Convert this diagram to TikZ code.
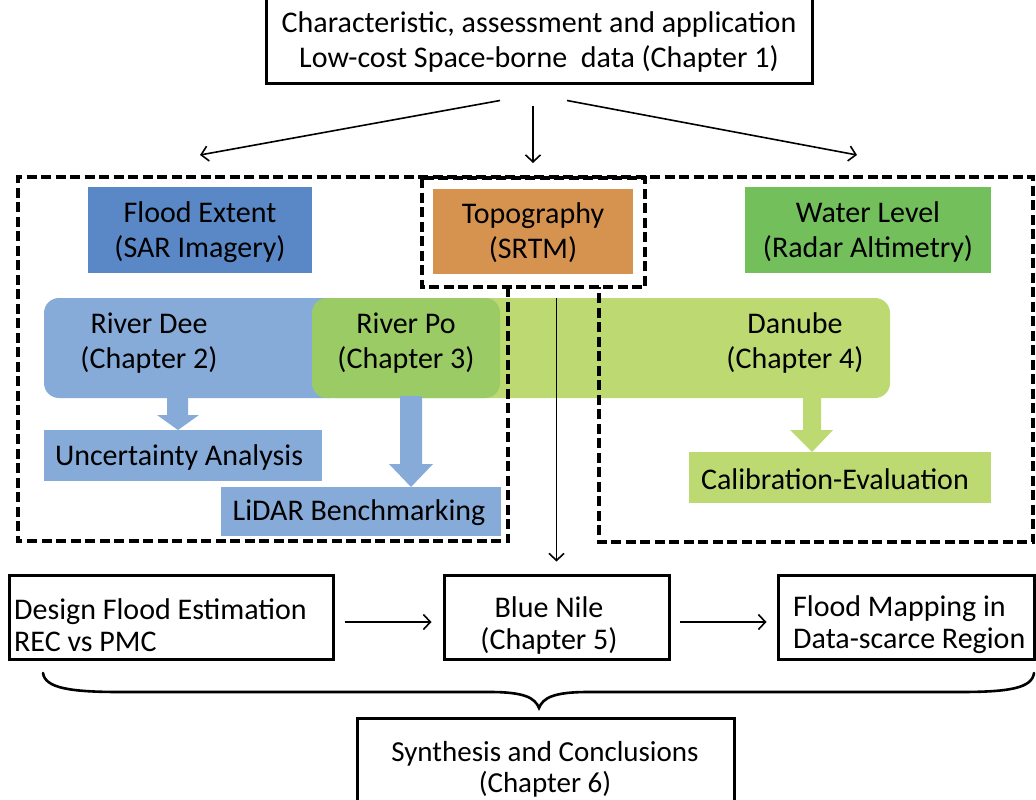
\documentclass[tikz,border=0pt]{standalone}
\usepackage{fontspec}
\setmainfont{Carlito}
\usetikzlibrary{arrows.meta}
\definecolor{fextent}{HTML}{5A87C5}
\definecolor{deeblue}{HTML}{86ABD9}
\definecolor{pogreen}{HTML}{9BCB65}
\definecolor{dangreen}{HTML}{BDD971}
\definecolor{wlgreen}{HTML}{72BF5C}
\definecolor{topoorange}{HTML}{D69350}
\begin{document}
\begin{tikzpicture}[x=1pt,y=-1pt,
  every node/.style={font=\fontsize{30}{35}\selectfont, inner sep=0pt, align=center},
  tight/.style={font=\fontsize{30}{32}\selectfont},
  plainbox/.style={draw=black, line width=3pt},
  dashbox/.style={draw=black, line width=3.5pt, dash pattern=on 10pt off 4.5pt},
  arr/.style={draw=black, line width=1.6pt, -{Straight Barb[length=7pt,width=15pt]}},
]
\useasboundingbox (0,0) rectangle (1036,800);

% top box
\node[plainbox, minimum width=546pt, minimum height=87pt] (top) at (539,39.5) {};
\node (toptxt) at (539,42) {Characteristic, assessment and application\\Low-cost Space-borne\ \ data (Chapter 1)};

% data boxes
\node[fill=fextent, minimum width=224pt, minimum height=86pt] (fe) at (200,230) {};
\node (fetxt) at (200,232) {Flood Extent\\(SAR Imagery)};
\node[fill=topoorange, minimum width=200pt, minimum height=85pt] (topo) at (533,231.5) {};
\node (topotxt) at (533,233) {Topography\\(SRTM)};
\node[fill=wlgreen, minimum width=246pt, minimum height=86pt] (wl) at (868,230) {};
\node (wltxt) at (868,232) {Water Level\\(Radar Altimetry)};

% bands
\fill[deeblue, rounded corners=15pt] (44,298) rectangle (345,398);
\fill[dangreen, rounded corners=15pt] (320,298) rectangle (890,398);
\fill[pogreen, rounded corners=15pt] (312,298) rectangle (500,398);
\node (dee) at (149,343) {River Dee\\(Chapter 2)};
\node (po) at (406,343) {River Po\\(Chapter 3)};
\node (danube) at (795,343) {Danube\\(Chapter 4)};

% block arrows
\fill[deeblue] (167,396) -- (188,396) -- (188,415) -- (199,415) -- (178,430) -- (157,415) -- (167,415) -- cycle;
\fill[deeblue] (400,396) -- (422,396) -- (422,464) -- (433,464) -- (411,487) -- (389,464) -- (400,464) -- cycle;
\fill[dangreen] (803,396) -- (821,396) -- (821,430) -- (833,430) -- (812,452) -- (790,430) -- (803,430) -- cycle;

% result boxes
\node[fill=deeblue, minimum width=278pt, minimum height=51pt] (unc) at (183,455.5) {};
\node (unctxt) at (179,457) {Uncertainty Analysis};
\node[fill=deeblue, minimum width=280pt, minimum height=49pt] (lidar) at (361,511.5) {};
\node (lidartxt) at (359,513) {LiDAR Benchmarking};
\node[fill=dangreen, minimum width=302pt, minimum height=51pt] (calib) at (840,477.5) {};
\node (calibtxt) at (835,479) {Calibration-Evaluation};

% dashed frames
\draw[dashbox] (508,287) -- (508,541) -- (18,541) -- (18,177) -- (1033,177) -- (1033,542) -- (599,542) -- (599,287);
\draw[dashbox] (422,178) rectangle (645,287);

% bottom row
\node[plainbox, minimum width=324pt, minimum height=84pt] (design) at (171,617) {};
\node[tight, anchor=west, align=left] (designtxt) at (14,625) {Design Flood Estimation\\REC vs PMC};
\node[plainbox, minimum width=225pt, minimum height=84pt] (nile) at (556.5,617) {};
\node[tight] (niletxt) at (549,625) {Blue Nile\\(Chapter 5)};
\node[plainbox, minimum width=256pt, minimum height=84pt] (fmap) at (906,617) {};
\node[tight, anchor=west, align=left] (fmaptxt) at (793,625) {Flood Mapping in\\Data-scarce Region};
\node[plainbox, minimum width=377pt, minimum height=106pt] (syn) at (545.5,771) {};
\node[tight, font=\fontsize{29}{31}\selectfont] (syntxt) at (545,769) {Synthesis and Conclusions\\(Chapter 6)};

% arrows from top
\coordinate (la) at (200,155);
\coordinate (ma) at (533,163);
\coordinate (ra) at (857,155);
\draw[arr] ([xshift=-39pt,yshift=-16pt]top.south) -- (la);
\draw[arr] ([xshift=-6pt,yshift=-21pt]top.south) -- (ma);
\draw[arr] ([xshift=28pt,yshift=-16pt]top.south) -- (ra);

% arrow from topography to Blue Nile
\draw[arr, shorten >=12pt] ([xshift=23.5pt,yshift=-24pt]topo.south) -- (nile.north);

% horizontal arrows
\draw[arr, shorten <=10pt, shorten >=11pt] ([yshift=-5pt]design.east) -- ([yshift=-5pt]nile.west);
\draw[arr, shorten <=9pt, shorten >=10pt] ([yshift=-5pt]nile.east) -- ([yshift=-5pt]fmap.west);

% brace
\draw[line width=2.6pt, line cap=round] (43,673) .. controls (45,688) and (70,692) .. (120,692) -- (490,692)
  .. controls (525,692) and (535,698) .. (539,708)
  .. controls (543,698) and (553,692) .. (588,692) -- (960,692)
  .. controls (1010,692) and (1032,688) .. (1034,673);
\end{tikzpicture}
\end{document}
